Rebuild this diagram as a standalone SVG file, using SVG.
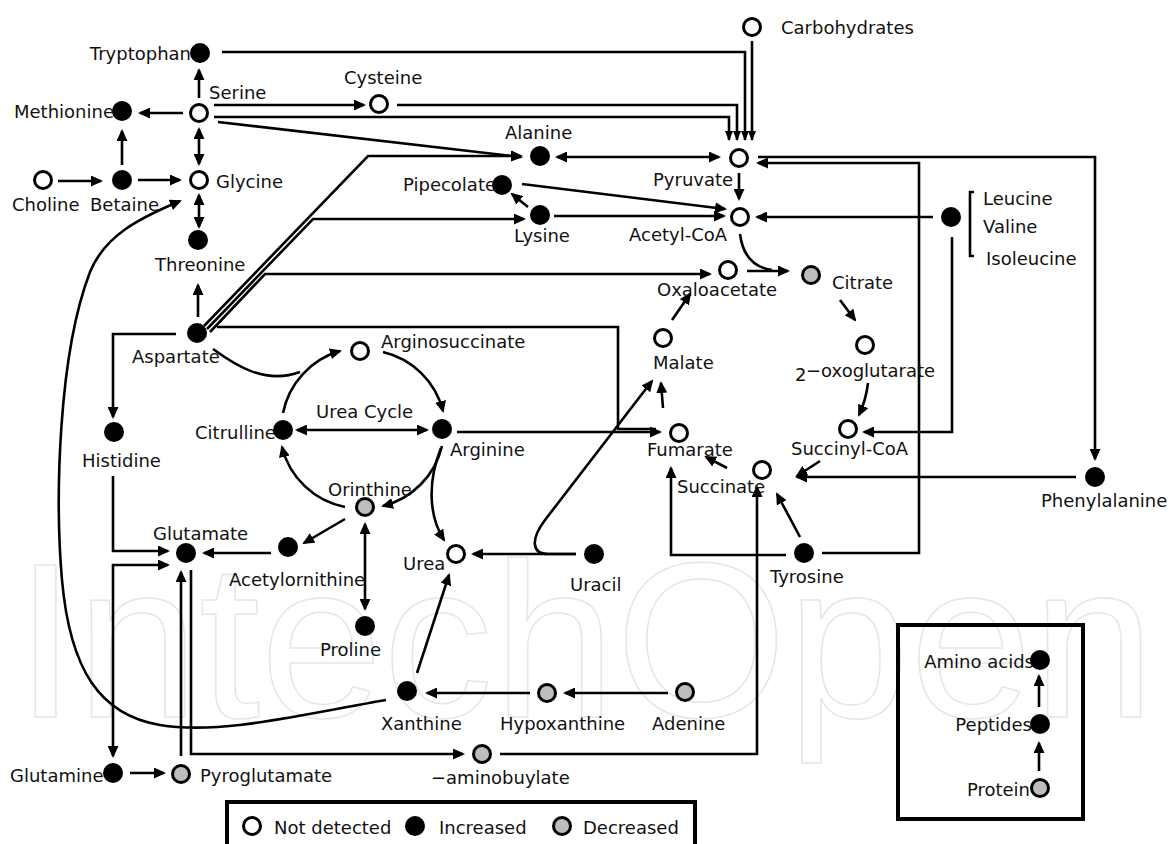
<svg xmlns="http://www.w3.org/2000/svg" width="1169" height="844" viewBox="0 0 1169 844">
<style>
text{font-family:"DejaVu Sans","Liberation Sans",sans-serif;font-size:18px;fill:#111}
.e{text-anchor:end}
.c{fill:none;stroke:#000;stroke-width:2.6}
.nd{fill:#fff;stroke:#000;stroke-width:3}
.in{fill:#000}
.de{fill:#bdbdbd;stroke:#000;stroke-width:3}
.wm{font-family:"Liberation Sans",sans-serif;font-size:220px;fill:none;stroke:#e6e6e6;stroke-width:1.5}
</style>
<defs>
<marker id="a" viewBox="0 0 12 11" refX="10" refY="5.5" markerWidth="12" markerHeight="11" markerUnits="userSpaceOnUse" orient="auto-start-reverse"><path d="M0,0 L12,5.5 L0,11 z"/></marker>
<marker id="s" viewBox="0 0 10 8" refX="9" refY="4" markerWidth="10" markerHeight="8" markerUnits="userSpaceOnUse" orient="auto"><path d="M0,0 L10,4 L0,8 z"/></marker>
</defs>
<rect width="1169" height="844" fill="#fff"/>
<text class="wm" x="15" y="717" textLength="1140" lengthAdjust="spacingAndGlyphs">IntechOpen</text>

<g id="connectors">
<path class="c" d="M199 98 V70" marker-end="url(#a)"/>
<path class="c" d="M183 113 H140" marker-end="url(#a)"/>
<path class="c" d="M199 129 V164" marker-start="url(#a)" marker-end="url(#a)"/>
<path class="c" d="M199 195 V227" marker-start="url(#a)" marker-end="url(#a)"/>
<path class="c" d="M58 181 H101" marker-end="url(#a)"/>
<path class="c" d="M138 180 H180" marker-end="url(#a)"/>
<path class="c" d="M122 165 V131" marker-end="url(#a)"/>
<path class="c" d="M214 105 H364" marker-end="url(#a)"/>
<path class="c" d="M222 52 H745 V140" marker-end="url(#s)"/>
<path class="c" d="M397 105 H737 V140" marker-end="url(#s)"/>
<path class="c" d="M214 117 H729 V140" marker-end="url(#s)"/>
<path class="c" d="M752 41 V140" marker-end="url(#s)"/>
<path class="c" d="M218 122 L521 157" marker-end="url(#a)"/>
<path class="c" d="M557 157 H719" marker-start="url(#a)" marker-end="url(#a)"/>
<path class="c" d="M739 173 V199" marker-end="url(#a)"/>
<path class="c" d="M522 184 L725 209" stroke-width="2.2" marker-end="url(#a)"/>
<path class="c" d="M554 216 H724" marker-end="url(#a)"/>
<path class="c" d="M528 207 L512 194" marker-end="url(#a)"/>
<path class="c" d="M204 326 L368 156 H521" marker-end="url(#a)"/>
<path class="c" d="M207 329 L313 219 H524" marker-end="url(#a)"/>
<path class="c" d="M210 332 L265 274 H710" marker-end="url(#a)"/>
<path class="c" d="M217 327 H618 V429 H656"/>
<path class="c" d="M198 317 V285" marker-end="url(#a)"/>
<path class="c" d="M176 334 H113 V417" marker-end="url(#a)"/>
<path class="c" d="M213 349 C235 365 265 385 300 372"/>
<path class="c" d="M283 413 A81 81 0 0 1 340 351" marker-end="url(#a)"/>
<path class="c" d="M383 352 A81 81 0 0 1 443 411" marker-end="url(#a)"/>
<path class="c" d="M442 446 A81 81 0 0 1 383 506" marker-end="url(#a)"/>
<path class="c" d="M345 507 A81 81 0 0 1 282 447" marker-end="url(#a)"/>
<path class="c" d="M297 430 H427" marker-start="url(#a)" marker-end="url(#a)"/>
<path class="c" d="M441 448 C428 480 428 515 444 540" marker-end="url(#a)"/>
<path class="c" d="M457 432 H660" marker-end="url(#a)"/>
<path class="c" d="M576 554 H473" marker-end="url(#a)"/>
<path class="c" d="M576 554 H548 C532 554 530 540 545 520 L652 381" marker-end="url(#a)"/>
<path class="c" d="M663 408 L661 383" marker-end="url(#a)"/>
<path class="c" d="M672 320 L690 294" marker-end="url(#a)"/>
<path class="c" d="M747 271 H788" marker-end="url(#a)"/>
<path class="c" d="M740 234 Q744 266 772 270"/>
<path class="c" d="M840 300 L855 320" marker-end="url(#a)"/>
<path class="c" d="M868 383 Q866 400 859 415" marker-end="url(#a)"/>
<path class="c" d="M820 461 L797 476" marker-end="url(#a)"/>
<path class="c" d="M727 468 L706 457" marker-end="url(#a)"/>
<path class="c" d="M1076 477 H797" marker-end="url(#a)"/>
<path class="c" d="M758 157 H1095 V459" marker-end="url(#a)"/>
<path class="c" d="M822 553 H919 V163 H758" marker-end="url(#a)"/>
<path class="c" d="M933 217 H757" marker-end="url(#a)"/>
<path class="c" d="M952 237 V432 H864" marker-end="url(#a)"/>
<path class="c" d="M800 537 L777 494" marker-end="url(#a)"/>
<path class="c" d="M786 555 H671 V468" marker-end="url(#a)"/>
<path class="c" d="M500 754 H757 V487" marker-end="url(#a)"/>
<path class="c" d="M191 570 V754 H463" marker-end="url(#a)"/>
<path class="c" d="M181 756 V572" marker-end="url(#a)"/>
<path class="c" d="M130 773 H164" marker-end="url(#a)"/>
<path class="c" d="M168 565 H113 V756" marker-start="url(#a)" marker-end="url(#a)"/>
<path class="c" d="M113 476 V551 H168" marker-end="url(#a)"/>
<path class="c" d="M271 553 H204" marker-end="url(#a)"/>
<path class="c" d="M345 519 L304 543" marker-end="url(#a)"/>
<path class="c" d="M365 524 V609" marker-start="url(#a)" marker-end="url(#a)"/>
<path class="c" d="M417 673 L449 575" marker-end="url(#a)"/>
<path class="c" d="M530 693 H427" marker-end="url(#a)"/>
<path class="c" d="M668 693 H565" marker-end="url(#a)"/>
<path class="c" d="M386 700 C300 715 220 735 160 725 C100 715 70 670 62 580 C55 500 58 355 90 272 C105 235 140 218 180 201" marker-end="url(#a)"/>
<path class="c" d="M1039 771 V743" marker-end="url(#a)"/>
<path class="c" d="M1039 707 V676" marker-end="url(#a)"/>
<path class="c" d="M974 192 H970 V256 H974"/>
</g>

<g id="tryptophan"><circle class="in" cx="200" cy="53" r="10"/><text class="e" x="191" y="60">Tryptophan</text></g>
<g id="serine"><circle class="nd" cx="199" cy="113" r="8.5"/><text x="209" y="99">Serine</text></g>
<g id="methionine"><circle class="in" cx="122" cy="111" r="10"/><text class="e" x="114" y="118">Methionine</text></g>
<g id="glycine"><circle class="nd" cx="199" cy="180" r="8.5"/><text x="216" y="188">Glycine</text></g>
<g id="choline"><circle class="nd" cx="43" cy="180" r="8.5"/><text x="12" y="211">Choline</text></g>
<g id="betaine"><circle class="in" cx="122" cy="180" r="10"/><text x="90" y="211">Betaine</text></g>
<g id="threonine"><circle class="in" cx="198" cy="240" r="10"/><text x="155" y="271">Threonine</text></g>
<g id="cysteine"><circle class="nd" cx="379" cy="104" r="8.5"/><text x="344" y="84">Cysteine</text></g>
<g id="carbohydrates"><circle class="nd" cx="752" cy="27" r="8.5"/><text x="781" y="34">Carbohydrates</text></g>
<g id="alanine"><circle class="in" cx="540" cy="156" r="10"/><text x="505" y="139">Alanine</text></g>
<g id="pyruvate"><circle class="nd" cx="739" cy="158" r="8.5"/><text x="653" y="186">Pyruvate</text></g>
<g id="pipecolate"><circle class="in" cx="502" cy="185" r="10"/><text x="403" y="191">Pipecolate</text></g>
<g id="lysine"><circle class="in" cx="540" cy="215" r="10"/><text x="514" y="242">Lysine</text></g>
<g id="acetylcoa"><circle class="nd" cx="740" cy="217" r="8.5"/><text x="629" y="241">Acetyl-CoA</text></g>
<g id="bcaa"><circle class="in" cx="951" cy="217" r="10"/><text x="983" y="205">Leucine</text><text x="983" y="233">Valine</text><text x="986" y="265">Isoleucine</text></g>
<g id="oxaloacetate"><circle class="nd" cx="728" cy="270" r="8.5"/><text x="657" y="296">Oxaloacetate</text></g>
<g id="citrate"><circle class="de" cx="811" cy="275" r="8.5"/><text x="832" y="289">Citrate</text></g>
<g id="oxoglutarate"><circle class="nd" cx="865" cy="345" r="8.5"/><text x="795" y="381">2</text><text x="806" y="377">−oxoglutarate</text></g>
<g id="malate"><circle class="nd" cx="663" cy="338" r="8.5"/><text x="653" y="369">Malate</text></g>
<g id="succinylcoa"><circle class="nd" cx="848" cy="429" r="8.5"/><text x="791" y="455">Succinyl-CoA</text></g>
<g id="fumarate"><circle class="nd" cx="679" cy="433" r="8.5"/><text x="647" y="456">Fumarate</text></g>
<g id="succinate"><circle class="nd" cx="762" cy="470" r="8.5"/><text x="677" y="493">Succinate</text></g>
<g id="tyrosine"><circle class="in" cx="804" cy="553" r="10"/><text x="770" y="583">Tyrosine</text></g>
<g id="phenylalanine"><circle class="in" cx="1095" cy="477" r="10"/><text x="1041" y="507">Phenylalanine</text></g>
<g id="aspartate"><circle class="in" cx="197" cy="333" r="10"/><text x="132" y="363">Aspartate</text></g>
<g id="arginosuccinate"><circle class="nd" cx="360" cy="351" r="8.5"/><text x="381" y="348">Arginosuccinate</text></g>
<g id="ureacycle"><text x="316" y="418">Urea Cycle</text></g>
<g id="citrulline"><circle class="in" cx="283" cy="430" r="10"/><text x="195" y="439">Citrulline</text></g>
<g id="arginine"><circle class="in" cx="442" cy="429" r="10"/><text x="450" y="456">Arginine</text></g>
<g id="orinthine"><circle class="de" cx="365" cy="507" r="8.5"/><text x="328" y="496">Orinthine</text></g>
<g id="histidine"><circle class="in" cx="114" cy="432" r="10"/><text x="82" y="467">Histidine</text></g>
<g id="glutamate"><circle class="in" cx="186" cy="553" r="10"/><text x="153" y="540">Glutamate</text></g>
<g id="acetylornithine"><circle class="in" cx="288" cy="547" r="10"/><text x="229" y="586">Acetylornithine</text></g>
<g id="urea"><circle class="nd" cx="456" cy="554" r="8.5"/><text x="403" y="570">Urea</text></g>
<g id="uracil"><circle class="in" cx="594" cy="554" r="10"/><text x="570" y="591">Uracil</text></g>
<g id="proline"><circle class="in" cx="365" cy="626" r="10"/><text x="320" y="656">Proline</text></g>
<g id="xanthine"><circle class="in" cx="407" cy="691" r="10"/><text x="381" y="730">Xanthine</text></g>
<g id="hypoxanthine"><circle class="de" cx="547" cy="693" r="8.5"/><text x="500" y="730">Hypoxanthine</text></g>
<g id="adenine"><circle class="de" cx="685" cy="692" r="8.5"/><text x="652" y="730">Adenine</text></g>
<g id="aminobutyrate"><circle class="de" cx="482" cy="754" r="8.5"/><text x="431" y="784">−aminobuylate</text></g>
<g id="glutamine"><circle class="in" cx="113" cy="773" r="10"/><text x="10" y="782">Glutamine</text></g>
<g id="pyroglutamate"><circle class="de" cx="181" cy="774" r="8.5"/><text x="200" y="782">Pyroglutamate</text></g>

<g id="inset">
<rect x="898" y="625" width="185" height="194" fill="none" stroke="#000" stroke-width="4"/>
<circle class="in" cx="1040" cy="660" r="10"/><text class="e" x="1034" y="668">Amino acids</text>
<circle class="in" cx="1040" cy="724" r="10"/><text class="e" x="1032" y="731">Peptides</text>
<circle class="de" cx="1040" cy="788" r="8.5"/><text class="e" x="1030" y="796">Protein</text>
</g>

<g id="legend">
<rect x="227" y="802" width="468" height="60" fill="none" stroke="#000" stroke-width="4"/>
<circle class="nd" cx="252" cy="826" r="8.5"/><text x="274" y="834">Not detected</text>
<circle class="in" cx="415" cy="826" r="10"/><text x="439" y="834">Increased</text>
<circle class="de" cx="562" cy="826" r="8.5"/><text x="583" y="834">Decreased</text>
</g>
</svg>
